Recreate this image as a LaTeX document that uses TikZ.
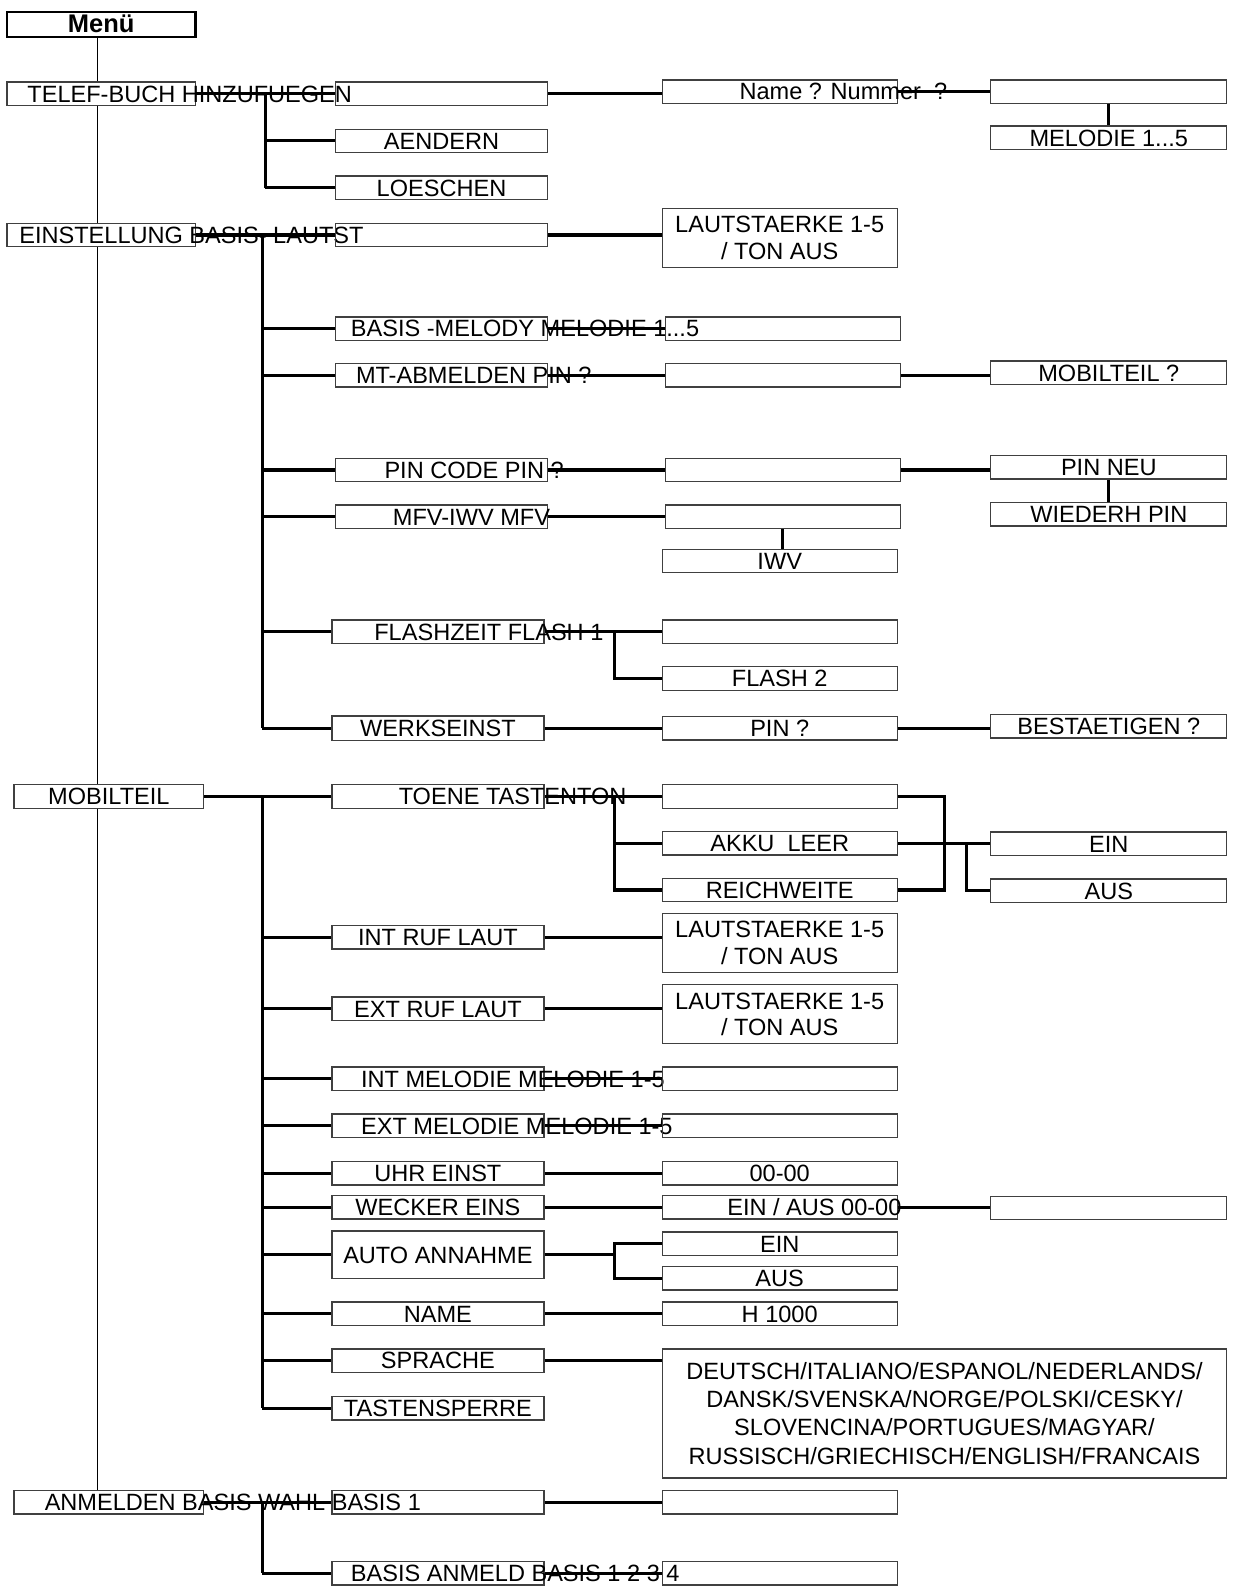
\documentclass[tikz,border=0pt]{standalone}
\usepackage{fontspec}
\setmainfont{Liberation Sans}
\usepackage{tikz}
\usetikzlibrary{calc}
\newcommand{\mnfont}{\fontsize{13.4}{15}\selectfont}
% text that runs past the right edge of its box
\newcommand{\spilltext}[2]{\makebox[0pt][l]{\hspace*{#1}#2}}

\begin{document}
\begin{tikzpicture}[x=0.02034cm, y=-0.02034cm,
    frame/.style={draw=black!75, line width=0.75pt, inner sep=0pt, font=\mnfont},
    box/.style={frame, minimum height=0.468cm, text height=9.6pt, text depth=0pt},
    lone/.style={box, minimum width=3.77cm},
    ltwo/.style={box, minimum width=4.24cm},
    lthree/.style={box, minimum width=4.70cm},
    lfour/.style={box, minimum width=4.72cm},
    twoline/.style={frame, minimum width=4.70cm, minimum height=1.18cm, align=center},
    link/.style={line width=1.8pt},
    branch/.style={line width=1.2pt},
    spine/.style={line width=0.9pt}]
  \useasboundingbox (0,0) rectangle (1219,1568);

  % root and first level
  \node[lone, draw=black, line width=1.3pt, font=\bfseries\fontsize{14.5}{16}\selectfont, minimum height=0.49cm] (menu) at (99.5,24) {Menü};
  \node[lone] (tb) at (99.5,92) {\spilltext{-1.475cm}{TELEF-BUCH HINZUFUEGEN}};
  \node[lone] (es) at (99.5,231) {\spilltext{-1.637cm}{EINSTELLUNG BASIS- LAUTST}};
  \node[lone, minimum width=3.79cm] (mt) at (107,783) {MOBILTEIL};
  \node[lone, minimum width=3.79cm] (an) at (107,1477) {\spilltext{-1.281cm}{ANMELDEN BASIS WAHL BASIS 1 \textcolor{black!40}{\_ \_ \_}}};

  % telef-buch
  \node[ltwo] (tb1) at (434,92) {};
  \node[ltwo] (tb2) at (434,138.5) {AENDERN};
  \node[ltwo] (tb3) at (434,184.5) {LOESCHEN};
  \node[lthree] (tbn) at (766.5,90) {\spilltext{-0.803cm}{Name ? Nummer\ \ ?}};
  \node[lfour] (tbr) at (1090,90) {};
  \node[lfour] (tbm) at (1090,135.5) {MELODIE 1...5};

  % einstellung basis
  \node[ltwo] (es1) at (434,231) {};
  \node[twoline] (esl) at (766.5,234) {LAUTSTAERKE 1-5\\/ TON AUS};
  \node[ltwo] (e1) at (434,323) {\spilltext{-1.810cm}{BASIS -MELODY MELODIE 1...5}};
  \node[ltwo] (e2) at (434,369) {\spilltext{-1.709cm}{MT-ABMELDEN PIN ?}};
  \node[ltwo] (e3) at (434,462) {\spilltext{-1.139cm}{PIN CODE PIN ?}};
  \node[ltwo] (e4) at (434,508) {\spilltext{-0.970cm}{MFV-IWV MFV}};
  \node[ltwo] (e5) at (430.5,621) {\spilltext{-1.271cm}{FLASHZEIT FLASH 1}};
  \node[ltwo, minimum height=0.49cm] (e6) at (430.5,716) {WERKSEINST};
  \node[lthree] (e1b) at (769.5,323) {};
  \node[lthree] (e2b) at (769.5,369) {};
  \node[lthree] (e3b) at (769.5,462) {};
  \node[lthree] (e4b) at (769.5,508) {};
  \node[lthree] (e4c) at (766.5,551.5) {IWV};
  \node[lthree] (e5b) at (766.5,621) {};
  \node[lthree] (e5c) at (766.5,667) {FLASH 2};
  \node[lthree] (e6b) at (766.5,716) {PIN ?};
  \node[lfour] (e2c) at (1090,366.5) {MOBILTEIL ?};
  \node[lfour] (e3c) at (1090,459.5) {PIN NEU};
  \node[lfour] (e3d) at (1090,505.5) {WIEDERH PIN};
  \node[lfour] (e6c) at (1090,714) {BESTAETIGEN ?};

  % mobilteil
  \node[ltwo] (m1) at (430.5,783) {\spilltext{-0.783cm}{TOENE TASTENTON}};
  \node[lthree] (m1b) at (766.5,783) {};
  \node[lthree] (m1c) at (766.5,829) {AKKU\ \ LEER};
  \node[lthree] (m1d) at (766.5,875) {REICHWEITE};
  \node[lfour] (m1e) at (1090,829.5) {EIN};
  \node[lfour] (m1f) at (1090,875.5) {AUS};
  \node[ltwo] (m2) at (430.5,921.5) {INT RUF LAUT};
  \node[twoline] (m2b) at (766.5,927) {LAUTSTAERKE 1-5\\/ TON AUS};
  \node[ltwo] (m3) at (430.5,991.5) {EXT RUF LAUT};
  \node[twoline] (m3b) at (766.5,997) {LAUTSTAERKE 1-5\\/ TON AUS};
  \node[ltwo] (m4) at (430.5,1060.5) {\spilltext{-1.536cm}{INT MELODIE MELODIE 1-5}};
  \node[lthree] (m4b) at (766.5,1060.5) {};
  \node[ltwo] (m5) at (430.5,1106.5) {\spilltext{-1.536cm}{EXT MELODIE MELODIE 1-5}};
  \node[lthree] (m5b) at (766.5,1106.5) {};
  \node[ltwo] (m6) at (430.5,1153.5) {UHR EINST};
  \node[lthree] (m6b) at (766.5,1153.5) {00-00};
  \node[ltwo] (m7) at (430.5,1187) {WECKER EINS};
  \node[lthree] (m7b) at (766.5,1187) {\spilltext{-1.048cm}{EIN / AUS 00-00}};
  \node[lfour] (m7c) at (1090,1187.5) {};
  \node[ltwo, minimum height=0.956cm] (m8) at (430.5,1233.5) {AUTO ANNAHME};
  \node[lthree] (m8b) at (766.5,1222.5) {EIN};
  \node[lthree] (m8c) at (766.5,1256.5) {AUS};
  \node[ltwo] (m9) at (430.5,1291.5) {NAME};
  \node[lthree] (m9b) at (766.5,1291.5) {H 1000};
  \node[ltwo] (m10) at (430.5,1337.5) {SPRACHE};
  \node[frame, minimum width=11.29cm, minimum height=2.583cm, align=center, font=\fontsize{13.4}{16}\selectfont] (m10b) at (928.5,1389.5)
    {DEUTSCH/ITALIANO/ESPANOL/NEDERLANDS/\\DANSK/SVENSKA/NORGE/POLSKI/CESKY/\\SLOVENCINA/PORTUGUES/MAGYAR/\\RUSSISCH/GRIECHISCH/ENGLISH/FRANCAIS};
  \node[ltwo] (m11) at (430.5,1384.5) {TASTENSPERRE};

  % anmelden
  \node[ltwo] (a1) at (430.5,1477) {};
  \node[lthree] (a1b) at (766.5,1477) {};
  \node[ltwo] (a2) at (430.5,1546.5) {\spilltext{-1.739cm}{BASIS ANMELD BASIS 1 2 3 4}};
  \node[lthree] (a2b) at (766.5,1546.5) {};

  % connectors
  \coordinate (sp) at (96,0);
  \coordinate (bx) at (258,0);
  \coordinate (cx) at (604,0);
  \coordinate (dx) at (950,0);

  \draw[spine] (menu.south -| sp) -- (tb.north -| sp)
               (tb.south -| sp) -- (es.north -| sp)
               (es.south -| sp) -- (mt.north -| sp)
               (mt.south -| sp) -- (an.north -| sp);

  % telef-buch
  \draw[link] (tb.east) -- (tb1.west);
  \coordinate (tbj) at ($(tb.east)!0.5!(tb1.west)$);
  \draw[branch] (tbj) -- (tbj |- tb3.west);
  \foreach \n in {tb2,tb3} \draw[link] (tbj |- \n.west) -- (\n.west);
  \draw[link] (tb1.east) -- (tb1.east -| tbn.west);
  \draw[link] (tbn.east) -- (tbn.east -| tbr.west);
  \draw[link] (tbr.south) -- (tbm.north);

  % einstellung basis
  \draw[link] (es.east) -- (es1.west);
  \draw[link] (es1.east) -- (es1.east -| esl.west);
  \draw[branch] (es.east -| bx) -- (e6.west -| bx);
  \foreach \n in {e1,e2,e3,e4,e5,e6} \draw[link] (\n.west -| bx) -- (\n.west);
  \foreach \a/\b in {e1/e1b,e2/e2b,e3/e3b,e4/e4b,e5/e5b,e6/e6b} \draw[link] (\a.east) -- (\a.east -| \b.west);
  \draw[link] (e2b.east) -- (e2b.east -| e2c.west);
  \draw[link] (e3b.east) -- (e3b.east -| e3c.west);
  \draw[link] (e6b.east) -- (e6b.east -| e6c.west);
  \draw[link] (e3c.south) -- (e3d.north);
  \draw[link] (e4b.south) -- (e4b.south |- e4c.north);
  \draw[link] (e5.east -| cx) |- (e5c.west);

  % mobilteil
  \draw[link] (mt.east) -- (mt.east -| m1.west);
  \draw[branch] (mt.east -| bx) -- (m11.west -| bx);
  \foreach \n in {m2,m3,m4,m5,m6,m7,m8,m9,m10,m11} \draw[link] (\n.west -| bx) -- (\n.west);
  \draw[link] (m1.east) -- (m1b.west);
  \draw[link] (m1.east -| cx) |- (m1d.west);
  \draw[link] (m1c.west -| cx) -- (m1c.west);
  \draw[link] (m1b.east) -- ++(46,0) |- (m1d.east);
  \draw[link] (m1c.east) -- (m1c.east -| m1e.west);
  \draw[link] (m1c.east -| dx) |- (m1f.west);
  \foreach \a/\b in {m2/m2b,m3/m3b,m4/m4b,m5/m5b,m6/m6b,m7/m7b,m7b/m7c,m9/m9b,m10/m10b} \draw[link] (\a.east) -- (\a.east -| \b.west);
  \draw[link] (m8.east) -- (m8.east -| cx);
  \draw[link] (m8b.west) -| (cx |- m8c.west) -- (m8c.west);

  % anmelden
  \draw[link] (an.east) -- (a1.west);
  \draw[link] (a1.east) -- (a1b.west);
  \draw[branch] (an.east -| bx) -- (a2.west -| bx);
  \draw[link] (a2.west -| bx) -- (a2.west);
  \draw[link] (a2.east) -- (a2b.west);
\end{tikzpicture}
\end{document}
